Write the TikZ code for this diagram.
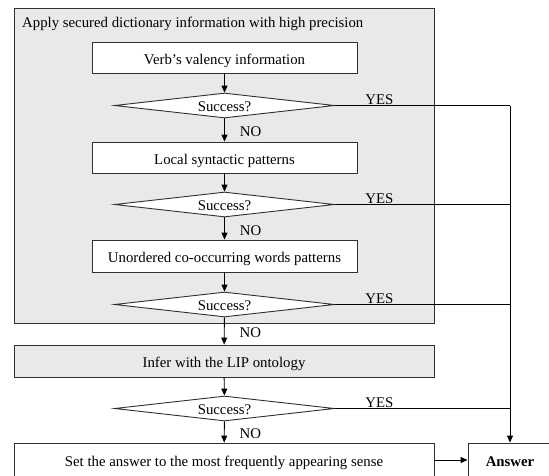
\documentclass[tikz,border=0pt]{standalone}
\usepackage{fontspec}
\setmainfont{Liberation Serif}
\usetikzlibrary{shapes.geometric,arrows.meta}
\definecolor{grpfill}{HTML}{E9E9E9}
\definecolor{edge}{HTML}{303030}
\begin{document}
\begin{tikzpicture}[x=1pt,y=-1pt,
  every node/.style={font=\fontsize{14.8}{17}\selectfont},
  grp/.style={draw=edge, line width=0.9pt, fill=grpfill, inner sep=0pt},
  proc/.style={draw=edge, line width=0.9pt, fill=white, inner sep=0pt, text height=13pt, text depth=0pt},
  dec/.style={draw=edge, line width=0.9pt, fill=white, shape=diamond, aspect=8.8, inner sep=0pt,
    minimum width=220pt, minimum height=25pt, text height=12.5pt, text depth=0pt},
  arr/.style={draw=black, line width=0.9pt, -{Triangle[length=7pt,width=6pt]}},
  conn/.style={draw=black, line width=0.9pt},
  nolab/.style={anchor=west, xshift=13.5pt, inner sep=1.5pt, text height=13pt, text depth=0pt},
  yeslab/.style={anchor=base, yshift=1.5pt, inner sep=0pt}]
\useasboundingbox (0,0) rectangle (549,475);
\clip (0,0) rectangle (549,475);

\node[grp, minimum width=420pt, minimum height=315pt] (grp) at (224,165.5) {};
\node[anchor=base west, inner sep=0pt] (title) at (22,27.5) {Apply secured dictionary information with high precision};

\node[proc, minimum width=265pt, minimum height=31pt] (b1) at (224.5,57.5) {Verb’s valency information};
\node[dec] (d1) at (224.5,105.5) {Success?};
\node[proc, minimum width=265pt, minimum height=31pt] (b2) at (224.5,157.5) {Local syntactic patterns};
\node[dec] (d2) at (224.5,204.5) {Success?};
\node[proc, minimum width=265pt, minimum height=32pt] (b3) at (224.5,256) {Unordered co-occurring words patterns};
\node[dec] (d3) at (224.5,304.5) {Success?};
\node[proc, fill=grpfill, minimum width=420pt, minimum height=32pt] (b4) at (224,361) {Infer with the LIP ontology};
\node[dec] (d4) at (224.5,408.5) {Success?};
\node[proc, minimum width=420pt, minimum height=34pt] (b5) at (224,460) {Set the answer to the most frequently appearing sense};
\node[proc, minimum width=84pt, minimum height=34pt, font=\fontsize{14.8}{17}\selectfont\bfseries] (ans) at (510,460) {Answer};

\coordinate (j1) at (510,105.5);
\coordinate (j2) at (510,204.5);
\coordinate (j3) at (510,304.5);
\coordinate (j4) at (510,408.5);

\draw[arr] (b1) -- (d1);
\draw[arr] (d1) -- node[nolab] {NO} (b2);
\draw[arr] (b2) -- (d2);
\draw[arr] (d2) -- node[nolab] {NO} (b3);
\draw[arr] (b3) -- (d3);
\draw[arr] (d3) -- node[nolab] {NO} (b4);
\draw[arr] (b4) -- (d4);
\draw[arr] (d4) -- node[nolab] {NO} (b5);
\draw[arr] (b5) -- (ans);

\draw[conn] (d1.east) -- node[yeslab, pos=0.254] {YES} (j1);
\draw[conn] (d2.east) -- node[yeslab, pos=0.254] {YES} (j2);
\draw[conn] (d3.east) -- node[yeslab, pos=0.254] {YES} (j3);
\draw[conn] (d4.east) -- node[yeslab, pos=0.254] {YES} (j4);
\draw[arr] (j1) -- (ans.north);
\end{tikzpicture}
\end{document}
